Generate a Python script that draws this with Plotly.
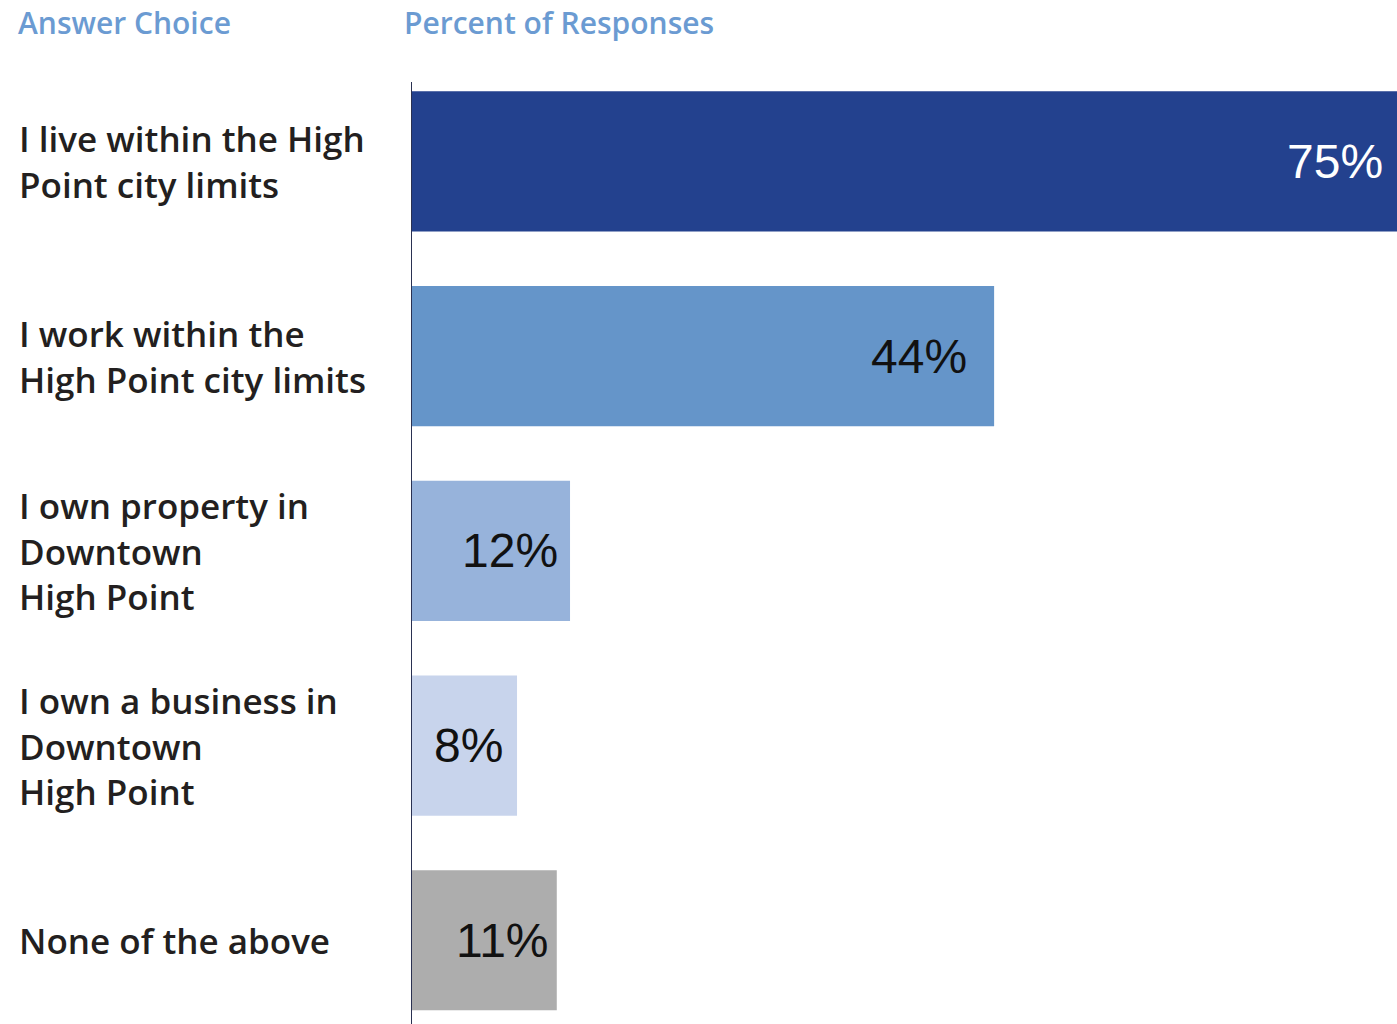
import plotly.graph_objects as go

# Survey answers and share of responses (%)
categories = [
    "I live within the High<br>Point city limits",
    "I work within the<br>High Point city limits",
    "I own property in<br>Downtown<br>High Point",
    "I own a business in<br>Downtown<br>High Point",
    "None of the above",
]
percents = [75, 44, 12, 8, 11]
bar_colors = ["#23418e", "#6595c9", "#97b3db", "#c8d4ec", "#adadad"]
value_colors = ["#ffffff", "#111111", "#111111", "#111111", "#111111"]
value_shifts = [-12, -25, -10, -12, -6]
header_left = "Answer Choice"
header_right = "Percent of Responses"

W, H = 1397, 1024
PLOT_LEFT, PLOT_TOP = 411, 64
X_MAX = 74.4
Y_RANGE = [4.43, -0.5]

def px_x(p):
    return p / W

def px_y(p):
    return 1 - p / H

fig = go.Figure(
    go.Bar(
        x=percents,
        y=categories,
        orientation="h",
        marker=dict(color=bar_colors, line=dict(width=0)),
        width=0.72,
        hoverinfo="skip",
    )
)

label_font = dict(family="Open Sans, Noto Sans, sans-serif", size=35, color="#231f20", weight=600)
value_font_family = "Liberation Sans, Arial, sans-serif"

annotations = []
for cat in categories:
    annotations.append(dict(
        x=px_x(17), xref="paper", xanchor="left",
        y=cat, yref="y", yanchor="middle",
        text=cat, showarrow=False, align="left", font=label_font,
    ))
for cat, v, c, s in zip(categories, percents, value_colors, value_shifts):
    annotations.append(dict(
        x=min(v, X_MAX), xref="x", xanchor="right", xshift=s,
        y=cat, yref="y", yanchor="middle",
        text=f"{v}%", showarrow=False,
        font=dict(family=value_font_family, size=48, color=c),
    ))
header_font = dict(family="Open Sans, Noto Sans, sans-serif", size=30, color="#6b9bd2", weight=600)
annotations.append(dict(x=px_x(16), xref="paper", xanchor="left", y=px_y(22), yref="paper",
                        yanchor="middle", text=header_left, showarrow=False, font=header_font))
annotations.append(dict(x=px_x(402), xref="paper", xanchor="left", y=px_y(22), yref="paper",
                        yanchor="middle", text=header_right, showarrow=False, font=header_font))

fig.update_layout(
    width=W, height=H,
    margin=dict(l=0, r=0, t=0, b=0),
    paper_bgcolor="white", plot_bgcolor="white",
    showlegend=False,
    xaxis=dict(domain=[PLOT_LEFT / W, 1], range=[0, X_MAX], visible=False, fixedrange=True),
    yaxis=dict(domain=[0, 1 - PLOT_TOP / H], range=Y_RANGE, visible=False,
               categoryorder="array", categoryarray=categories, fixedrange=True),
    annotations=annotations,
    shapes=[dict(type="line", xref="x", x0=0, x1=0, yref="paper", y0=0, y1=px_y(82),
                 line=dict(color="#2a3152", width=2), layer="above")],
)

fig.write_html("out.html")
